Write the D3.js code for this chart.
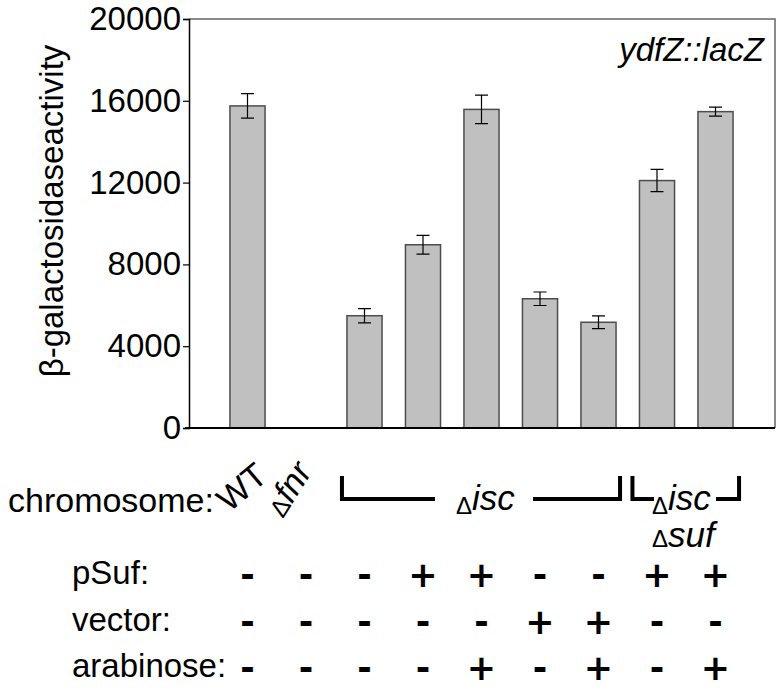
<!DOCTYPE html>
<html>
<head>
<meta charset="utf-8">
<script src="https://cdn.jsdelivr.net/npm/d3@7"></script>
<style>
  html, body { margin: 0; padding: 0; background: #fff; }
  svg { display: block; font-family: "Liberation Sans", Arial, Helvetica, sans-serif; }
</style>
</head>
<body>
<svg id="chart" width="784" height="690"></svg>
<script>
// ---- data ----
const categories = ["WT", "Δfnr", "Δisc 1", "Δisc 2", "Δisc 3", "Δisc 4", "Δisc 5", "ΔiscΔsuf 1", "ΔiscΔsuf 2"];
const values = [15750, 0, 5490, 8960, 15580, 6320, 5170, 12100, 15470];
const errors = [600, 0, 350, 460, 700, 330, 310, 545, 220];
const yTicks = [0, 4000, 8000, 12000, 16000, 20000];
const rowLabels = ["pSuf:", "vector:", "arabinose:"];
const pSuf = ["-", "-", "-", "+", "+", "-", "-", "+", "+"];
const vector = ["-", "-", "-", "-", "-", "+", "+", "-", "-"];
const arabinose = ["-", "-", "-", "-", "+", "-", "+", "-", "+"];
const title = "ydfZ::lacZ";
const yLabel = "β-galactosidaseactivity";

// ---- layout ----
const svg = d3.select("#chart");
const plot = { left: 189, right: 775, top: 19, bottom: 428 };

const x = d3.scaleBand().domain(categories).range([218.25, 744.75])
  .paddingInner(0.4).paddingOuter(0.2);
const y = d3.scaleLinear().domain([0, 20000]).range([plot.bottom, plot.top]);

// frame (top and right)
svg.append("path")
  .attr("d", `M${plot.left},${plot.top}H${plot.right}V${plot.bottom}`)
  .attr("fill", "none").attr("stroke", "#666").attr("stroke-width", 1.5);

// y axis
const yAxis = d3.axisLeft(y).tickValues(yTicks).tickSize(6).tickPadding(2).tickFormat(d3.format("d"));
const gy = svg.append("g").attr("transform", `translate(${plot.left},0)`).call(yAxis);
gy.select(".domain").attr("stroke", "#000").attr("stroke-width", 1.5);
gy.selectAll(".tick line").attr("stroke", "#000").attr("stroke-width", 1.2);
gy.selectAll(".tick text").attr("font-size", 33).attr("fill", "#000")
  .attr("font-family", "Liberation Sans, Arial, sans-serif");

// bars
svg.append("g").selectAll("rect").data(categories).join("rect")
  .attr("x", d => x(d))
  .attr("y", (d, i) => y(values[i]))
  .attr("width", x.bandwidth())
  .attr("height", (d, i) => y(0) - y(values[i]))
  .attr("fill", "#c0c0c0").attr("stroke", "#4d4d4d").attr("stroke-width", 1.5);

// error bars
const cap = 6.5;
const eg = svg.append("g").attr("stroke", "#000").attr("stroke-width", 1.2).attr("fill", "none");
categories.forEach((c, i) => {
  if (!errors[i]) return;
  const cx = x(c) + x.bandwidth() / 2;
  const y1 = y(values[i] + errors[i]), y2 = y(values[i] - errors[i]);
  eg.append("path").attr("d", `M${cx},${y1}V${y2}M${cx - cap},${y1}H${cx + cap}M${cx - cap},${y2}H${cx + cap}`);
});

// baseline
svg.append("line").attr("x1", plot.left - 4).attr("x2", plot.right)
  .attr("y1", plot.bottom).attr("y2", plot.bottom)
  .attr("stroke", "#000").attr("stroke-width", 2);

// title
svg.append("text").attr("x", 764).attr("y", 61).attr("text-anchor", "end")
  .attr("font-size", 33).attr("font-style", "italic").text(title);

// y label
svg.append("text").attr("transform", "translate(63,211) rotate(-90)")
  .attr("text-anchor", "middle").attr("font-size", 33).text(yLabel);

// ---- chromosome row ----
svg.append("text").attr("x", 8).attr("y", 512).attr("font-size", 34).text("chromosome:");
svg.append("text").attr("transform", "translate(229,513) rotate(-40)")
  .attr("font-size", 34).text("WT");
const fnr = svg.append("text").attr("transform", "translate(283,519) rotate(-58)");
fnr.append("tspan").attr("font-size", 25).text("Δ");
fnr.append("tspan").attr("font-size", 34).attr("font-style", "italic").text("fnr");

// brackets
const bk = svg.append("g").attr("stroke", "#000").attr("stroke-width", 4).attr("fill", "none")
  .attr("stroke-linejoin", "miter").attr("stroke-linecap", "square");
const bx0 = x(categories[2]) - 5, bx1 = x(categories[6]) + x.bandwidth() + 4;
const cx0 = x(categories[7]) - 7, cx1 = x(categories[8]) + x.bandwidth() + 6;
bk.append("path").attr("d", `M${bx0},478V499H433`);
bk.append("path").attr("d", `M535,499H${bx1}V478`);
bk.append("path").attr("d", `M${cx0},478V499H652`);
bk.append("path").attr("d", `M718,499H${cx1}V478`);

function deltaLabel(xp, yp, word, shift) {
  const t = svg.append("text").attr("x", xp).attr("y", yp);
  t.append("tspan").attr("font-size", 24).attr("dy", shift).text("Δ");
  t.append("tspan").attr("font-size", 35).attr("font-style", "italic").attr("dy", -shift).text(word);
}
deltaLabel(456, 510, "isc", 4);
deltaLabel(652, 510, "isc", 4);
deltaLabel(652, 547, "suf", 0);

// ---- +/- table ----
const rows = [pSuf, vector, arabinose];
const rowY = d3.scalePoint().domain(rowLabels).range([584, 677]);
rowLabels.forEach((lab, r) => {
  svg.append("text").attr("x", 72).attr("y", rowY(lab)).attr("font-size", 33).text(lab);
  svg.append("g").selectAll("text").data(rows[r]).join("text")
    .attr("x", (d, i) => x(categories[i]) + x.bandwidth() / 2)
    .attr("y", rowY(lab) + 3)
    .attr("text-anchor", "middle")
    .attr("font-family", "DejaVu Sans, sans-serif")
    .attr("font-size", 35).attr("font-weight", "bold")
    .text(d => d);
});
</script>
</body>
</html>
